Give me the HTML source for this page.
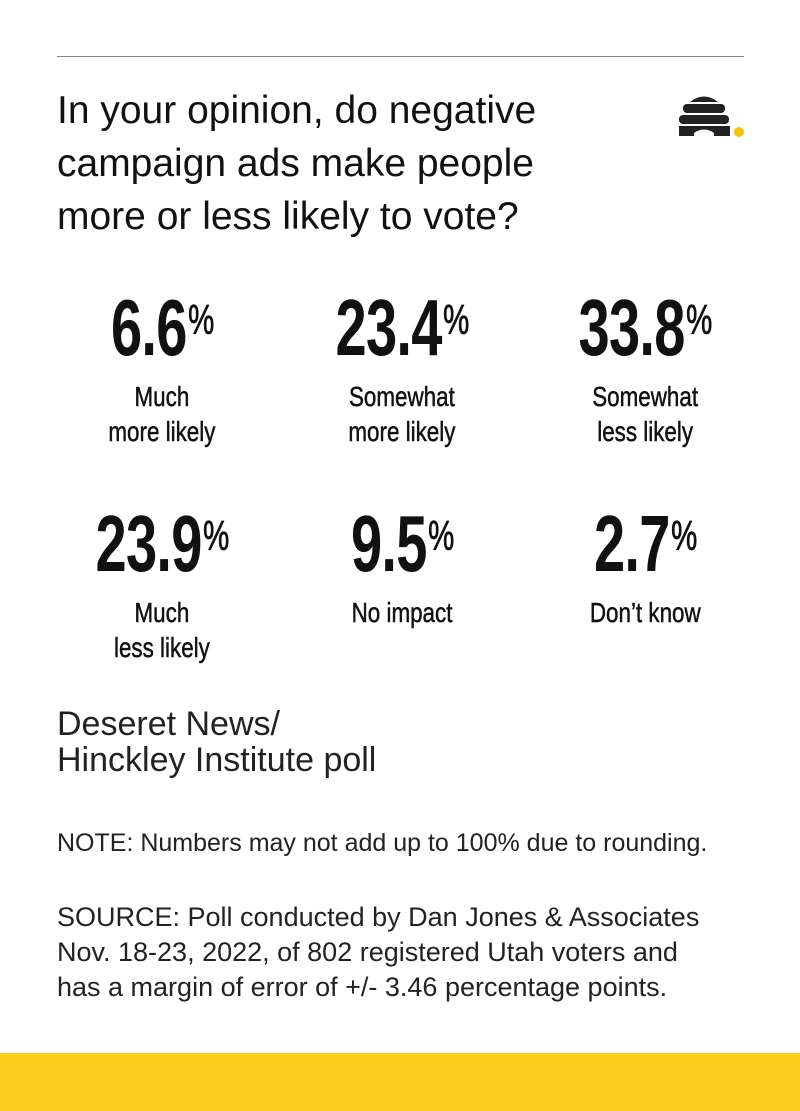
<!DOCTYPE html>
<html><head><meta charset="utf-8"><style>
body{margin:0;background:#fff;}
#c{position:relative;width:800px;height:1111px;overflow:hidden;background:#fff;font-family:"Liberation Sans",sans-serif;color:#111;}
.a{position:absolute;white-space:nowrap;}
.num{position:absolute;width:300px;text-align:center;font-weight:bold;font-size:80px;line-height:84px;letter-spacing:-1px;}
.num span{display:inline-block;transform:scaleX(0.7);transform-origin:center;}
.num sup{font-size:42px;vertical-align:top;position:relative;top:-8px;font-weight:normal;-webkit-text-stroke:0.8px #111;margin-left:2px;}
.lab{position:absolute;width:300px;text-align:center;font-size:28px;line-height:35px;-webkit-text-stroke:0.5px #111;}
.lab span{display:inline-block;transform:scaleX(0.8);transform-origin:center;}
.t{font-size:39px;line-height:53px;}
.s{font-size:25px;line-height:35px;color:#222;}
</style></head><body><div id="c">
<div class="a" style="left:57px;top:56px;width:687px;height:1px;background:#888"></div>
<div class="a t" style="left:57px;top:84px">In your opinion, do negative<br>campaign ads make people<br>more or less likely to vote?</div>
<svg class="a" style="left:676px;top:90px" width="72" height="50" viewBox="0 0 72 50">
<path d="M14 12 Q28 1 42 12 Z" fill="#222"/>
<rect x="7" y="14" width="42" height="9" rx="4" fill="#222"/>
<rect x="3" y="25" width="50" height="9" rx="4" fill="#222"/>
<path d="M3 36 H54 V46 H38 V43 Q28 36 18 43 V46 H3 Z" fill="#222"/>
<circle cx="63" cy="42" r="5" fill="#f5c400"/>
</svg>
<div class="num" style="left:12px;top:286px"><span>6.6<sup>%</sup></span></div>
<div class="num" style="left:252px;top:286px"><span>23.4<sup>%</sup></span></div>
<div class="num" style="left:495px;top:286px"><span>33.8<sup>%</sup></span></div>
<div class="lab" style="left:12px;top:379px"><span>Much<br>more likely</span></div>
<div class="lab" style="left:252px;top:379px"><span>Somewhat<br>more likely</span></div>
<div class="lab" style="left:495px;top:379px"><span>Somewhat<br>less likely</span></div>
<div class="num" style="left:12px;top:502px"><span>23.9<sup>%</sup></span></div>
<div class="num" style="left:252px;top:502px"><span>9.5<sup>%</sup></span></div>
<div class="num" style="left:495px;top:502px"><span>2.7<sup>%</sup></span></div>
<div class="lab" style="left:12px;top:595px"><span>Much<br>less likely</span></div>
<div class="lab" style="left:252px;top:595px"><span>No impact</span></div>
<div class="lab" style="left:495px;top:595px"><span>Don’t know</span></div>
<div class="a" style="left:57px;top:706px;font-size:34px;line-height:36px;color:#222">Deseret News/<br>Hinckley Institute poll</div>
<div class="a s" style="left:57px;top:826px">NOTE: Numbers may not add up to 100% due to rounding.</div>
<div class="a s" style="left:57px;top:900px;font-size:27px">SOURCE: Poll conducted by Dan Jones &amp; Associates<br>Nov. 18-23, 2022, of 802 registered Utah voters and<br>has a margin of error of +/- 3.46 percentage points.</div>
<div class="a" style="left:0;top:1053px;width:800px;height:58px;background:#f8cd1c"></div>
</div></body></html>
